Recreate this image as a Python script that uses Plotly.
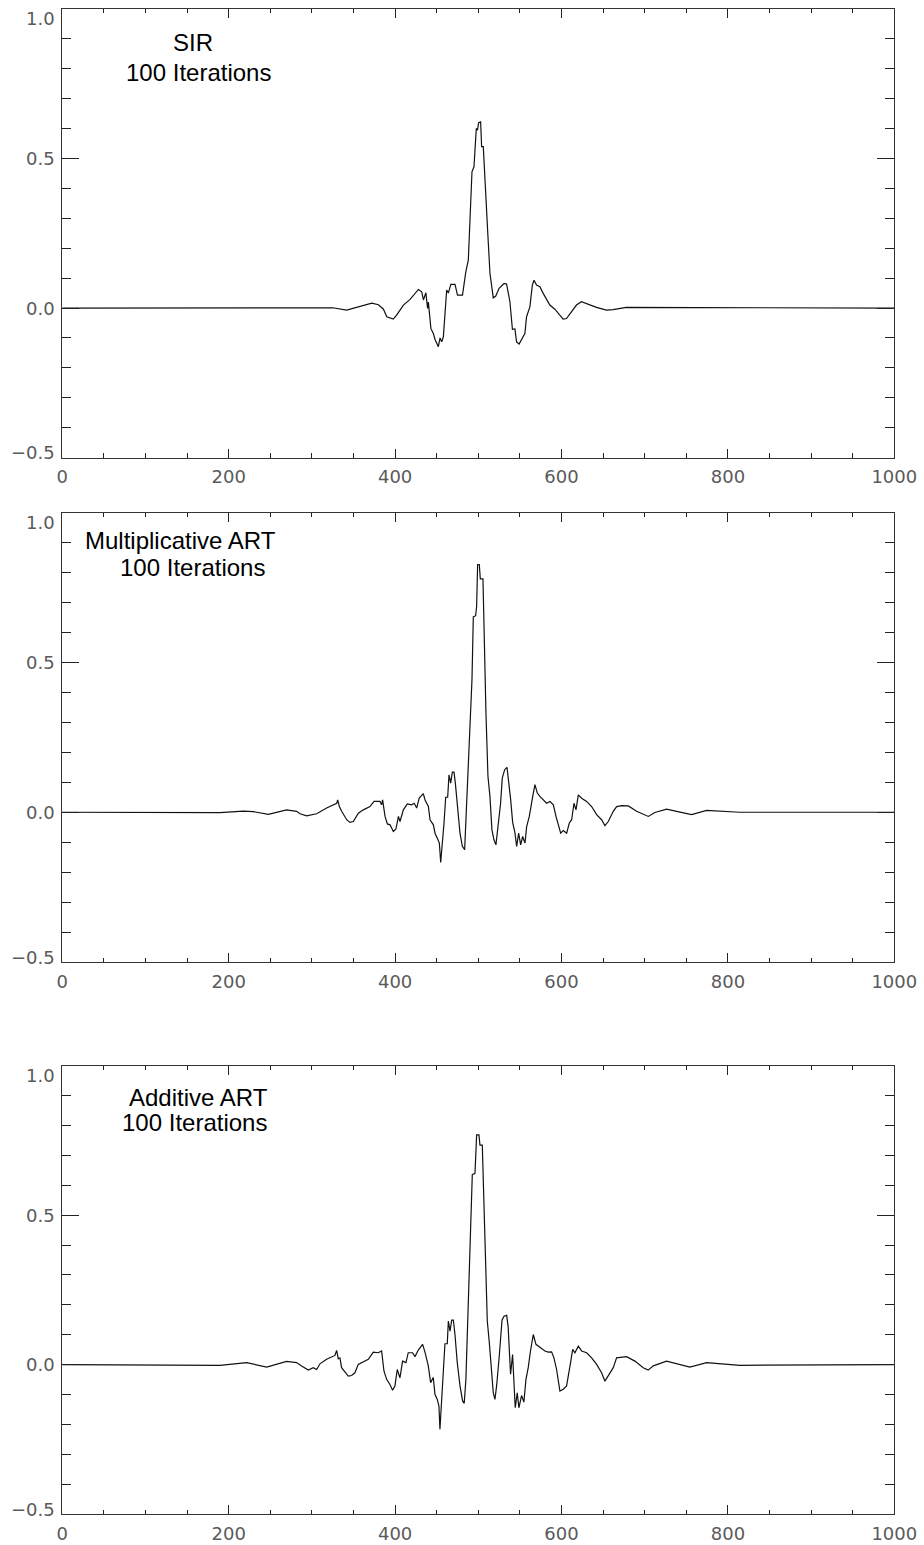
import plotly.graph_objects as go

# ---- reconstructed profiles after 100 iterations ----
sir_x = [0, 293, 309.7, 325, 341.8, 354, 372, 380, 386, 390, 397.9, 402, 410, 418, 428, 432, 434, 437,
         439, 440, 443, 446, 448, 452, 454, 456, 458, 460, 462, 464, 467, 472, 475, 481, 485, 488, 490,
         492.4, 494.8, 496.9, 497.6, 499, 500.4, 502.8, 504, 506, 509, 511.3, 514, 518, 521, 525, 531,
         534, 538, 541, 544, 546, 549, 553, 556, 558, 562, 565, 567, 570, 574, 578, 582, 586, 592, 598,
         602, 606, 612, 618, 624, 630, 642, 654, 662, 678, 694, 1000]
sir_y = [0.0, 0.0, 0.002, 0.001, -0.007, 0.003, 0.016, 0.011, -0.004, -0.029, -0.037, -0.023, 0.010,
         0.029, 0.062, 0.054, 0.027, 0.051, -0.001, 0.020, -0.068, -0.085, -0.105, -0.129, -0.100,
         -0.113, -0.096, -0.018, 0.060, 0.050, 0.079, 0.079, 0.043, 0.043, 0.121, 0.160, 0.300, 0.455,
         0.472, 0.545, 0.600, 0.594, 0.619, 0.622, 0.539, 0.539, 0.350, 0.255, 0.116, 0.034, 0.040,
         0.066, 0.082, 0.080, 0.021, -0.071, -0.070, -0.113, -0.120, -0.100, -0.085, -0.029, 0.004,
         0.077, 0.093, 0.077, 0.071, 0.049, 0.027, 0.010, -0.004, -0.026, -0.037, -0.035, -0.013,
         0.010, 0.021, 0.015, 0.002, -0.007, -0.005, 0.002, 0.002, 0.0]

mart_x = [0, 189.5, 217.5, 229.6, 247.6, 269.6, 281.6, 285.7, 293.7, 305.7, 317.7, 329.8, 331, 333,
          335.8, 341.8, 345.8, 349.8, 355.8, 361.8, 369.8, 374.6, 381.8, 383.8, 385, 387.9, 390.7,
          393.9, 397.9, 401, 404, 405.9, 409.9, 414.7, 419.9, 423, 425.9, 429, 433.9, 436, 440, 442,
          446, 448, 450.7, 453.2, 454.8, 457.2, 458.8, 460.8, 463.2, 464.8, 466.8, 468.8, 470.8, 472.4,
          474.8, 478, 480.8, 483.6, 486, 488, 490.8, 492.4, 494, 496.8, 498, 499.2, 501.2, 502.4, 505.6,
          507.2, 509.2, 511.6, 514, 516.4, 518.8, 521.2, 524, 526.8, 528.8, 531.7, 534.5, 536.5, 538.9,
          541.3, 544.1, 546.1, 548.5, 550.9, 553.3, 556.1, 558.1, 561.3, 564.1, 566.1, 568.1, 570.9,
          574.1, 578.1, 582.1, 586.1, 590.2, 593.4, 596.2, 599, 602.2, 606.2, 609.4, 612.2, 615, 617.4,
          620.2, 624.2, 630.2, 636.2, 642.2, 648.2, 652.2, 656.2, 662.2, 666.3, 672.3, 680.3, 690.3,
          698.3, 704.3, 712.3, 726.3, 738.3, 756.4, 774.4, 790.4, 814, 1000]
mart_y = [0.0, -0.001, 0.004, 0.002, -0.007, 0.008, 0.003, -0.005, -0.012, -0.005, 0.014, 0.030, 0.041,
          0.019, 0.003, -0.025, -0.034, -0.031, -0.003, 0.008, 0.019, 0.036, 0.036, 0.025, 0.041,
          -0.014, -0.039, -0.042, -0.064, -0.056, -0.014, -0.031, 0.008, 0.028, 0.025, 0.030, 0.014,
          0.047, 0.062, 0.041, 0.019, -0.025, -0.042, -0.070, -0.087, -0.103, -0.168, -0.098, -0.036,
          0.050, 0.050, 0.125, 0.097, 0.134, 0.134, 0.097, 0.019, -0.070, -0.114, -0.125, 0.030, 0.153,
          0.298, 0.443, 0.652, 0.656, 0.688, 0.827, 0.827, 0.779, 0.779, 0.548, 0.331, 0.120, 0.053,
          -0.059, -0.092, -0.109, -0.048, 0.030, 0.114, 0.142, 0.150, 0.108, 0.042, -0.034, -0.070,
          -0.114, -0.070, -0.109, -0.081, -0.103, -0.048, -0.014, 0.042, 0.064, 0.092, 0.064, 0.053,
          0.042, 0.030, 0.036, 0.025, -0.014, -0.042, -0.070, -0.061, -0.070, -0.036, -0.025, 0.030,
          0.008, 0.058, 0.047, 0.036, 0.019, -0.008, -0.025, -0.045, -0.031, 0.003, 0.019, 0.022,
          0.021, 0.003, -0.008, -0.014, -0.001, 0.010, 0.003, -0.008, 0.006, 0.003, 0.0, 0.0]

aart_x = [0, 189.5, 221.5, 245.6, 269.6, 281.6, 287.6, 295.7, 301.7, 305.7, 309.7, 317.7, 327.7, 329.7,
          331.7, 333.7, 335.7, 339.7, 343.7, 347.7, 351.7, 355.7, 361.8, 367.8, 373.8, 379.8, 383.8,
          386.6, 389.8, 393.8, 397, 399.8, 402.6, 405.8, 409, 413, 415.8, 421, 423.9, 427.9, 433.1,
          435.9, 439.9, 442.7, 445.9, 447.9, 450.7, 452.7, 453.9, 455.9, 457.9, 459.9, 462.7, 464, 466,
          468, 470, 472, 474.7, 478, 481.1, 483.1, 485.1, 486.2, 488, 490, 491.6, 492.8, 496, 497.2, 498,
          500.8, 502, 504.8, 506.4, 508.4, 510.8, 513.2, 516, 518, 520, 522, 525.2, 527, 528.5, 530.9,
          534.1, 535.8, 537, 538.8, 541.2, 542.8, 544.4, 546.8, 548.8, 552, 554.8, 557.3, 560, 562.9,
          566.1, 569.3, 574.1, 580.1, 584.1, 588.1, 590.9, 594.1, 598.1, 602.1, 606.1, 608.1, 610.9,
          613.4, 616.1, 620.2, 624.2, 630.2, 636.2, 642.2, 648.2, 652.2, 656.2, 662.2, 666.2, 670.2,
          678.2, 688.2, 698.2, 704.2, 710.3, 726.3, 742.3, 754.3, 774.4, 798.4, 814.4, 1000]
aart_y = [0.0, -0.002, 0.007, -0.008, 0.011, 0.007, -0.004, -0.018, -0.010, -0.016, 0.003, 0.018,
          0.031, 0.048, 0.020, 0.023, -0.010, -0.025, -0.038, -0.036, -0.027, 0.001, 0.009, 0.018,
          0.042, 0.040, 0.046, -0.021, -0.049, -0.066, -0.085, -0.071, -0.016, -0.044, 0.012, 0.007,
          0.040, 0.040, 0.027, 0.049, 0.068, 0.042, -0.004, -0.060, -0.043, -0.099, -0.116, -0.138,
          -0.216, -0.116, -0.016, 0.070, 0.070, 0.146, 0.112, 0.149, 0.149, 0.100, 0.007, -0.071,
          -0.121, -0.129, -0.049, 0.051, 0.162, 0.324, 0.463, 0.636, 0.639, 0.719, 0.768, 0.768, 0.734,
          0.734, 0.552, 0.363, 0.146, 0.075, -0.038, -0.094, -0.116, -0.071, 0.029, 0.096, 0.149,
          0.162, 0.165, 0.129, 0.070, -0.032, 0.034, -0.071, -0.144, -0.094, -0.144, -0.103, -0.125,
          -0.049, -0.010, 0.049, 0.101, 0.068, 0.057, 0.046, 0.042, 0.043, 0.023, -0.016, -0.088,
          -0.082, -0.071, -0.043, 0.007, 0.051, 0.040, 0.062, 0.046, 0.040, 0.023, 0.001, -0.027,
          -0.055, -0.038, -0.010, 0.023, 0.025, 0.027, 0.012, -0.010, -0.018, -0.004, 0.012, 0.001,
          -0.008, 0.007, 0.001, -0.002, 0.0]

panel_titles = [("SIR", "100 Iterations"),
                ("Multiplicative ART", "100 Iterations"),
                ("Additive ART", "100 Iterations")]

x_ticks = [0, 200, 400, 600, 800, 1000]
y_ticks = [-0.5, 0.0, 0.5, 1.0]
y_tick_text = ["\u22120.5", "0.0", "0.5", "1.0"]

W, H = 924, 1545
series = [(sir_x, sir_y), (mart_x, mart_y), (aart_x, aart_y)]

# panel frames in pixels: (top, bottom)
frames = [(8.7, 457.7), (512.7, 962.0), (1065.5, 1514.3)]
x_left, x_right = 62.3, 894.3
# centres of the two title lines per panel, in pixels: ((x1, y1), (x2, y2))
title_pos = [((193, 42), (198, 72)),
             ((180, 541), (192, 567)),
             ((198, 1097), (194, 1122))]

fig = go.Figure()
tick_font = dict(family="DejaVu Sans", size=18, color="#5a5a5a")
annotations = []

for i, (xs, ys) in enumerate(series):
    n = "" if i == 0 else str(i + 1)
    fig.add_trace(go.Scatter(x=xs, y=ys, mode="lines",
                             line=dict(color="#111111", width=1.2),
                             xaxis="x" + n, yaxis="y" + n, showlegend=False,
                             hoverinfo="skip"))
    top, bot = frames[i]
    fig.layout["xaxis" + n] = dict(
        domain=[x_left / W, x_right / W], anchor="y" + n, automargin=False,
        range=[0, 1000], tickmode="array", tickvals=x_ticks,
        ticks="inside", ticklen=9, tickwidth=1, tickcolor="#222222",
        minor=dict(dtick=50, tick0=0, ticks="inside", ticklen=4.5, tickcolor="#222222", tickwidth=1),
        showline=True, linecolor="#333333", linewidth=1, mirror="ticks",
        showgrid=False, zeroline=False, tickfont=tick_font, ticklabelstandoff=3,
    )
    fig.layout["yaxis" + n] = dict(
        domain=[1 - bot / H, 1 - top / H], anchor="x" + n, automargin=False,
        range=[-0.5, 1.0], tickmode="array", tickvals=y_ticks,
        ticks="inside", ticklen=17, tickwidth=1, tickcolor="#222222",
        minor=dict(dtick=0.1, tick0=0, ticks="inside", ticklen=9, tickcolor="#222222", tickwidth=1),
        showline=True, linecolor="#333333", linewidth=1, mirror="ticks",
        showgrid=False, zeroline=False, showticklabels=False,
    )
    # y tick labels: the outer ones sit inside the frame's height
    for v, t in zip(y_ticks, y_tick_text):
        shift = -10 if v == 1.0 else (5 if v == -0.5 else 0)
        annotations.append(dict(x=0, xref="x" + n + " domain", y=v, yref="y" + n,
                                text=t, showarrow=False, xanchor="right", yanchor="middle",
                                xshift=-5, yshift=shift, font=tick_font))
    for (px, py), line in zip(title_pos[i], panel_titles[i]):
        annotations.append(dict(x=px / W, y=1 - py / H, xref="paper", yref="paper",
                                text=line, showarrow=False, xanchor="center", yanchor="middle",
                                font=dict(family="Liberation Sans", size=24, color="#000000")))

fig.update_layout(template="none", width=W, height=H, margin=dict(l=0, r=0, t=0, b=0, pad=0),
                  paper_bgcolor="white", plot_bgcolor="white",
                  annotations=annotations)

fig.write_html("out.html")
